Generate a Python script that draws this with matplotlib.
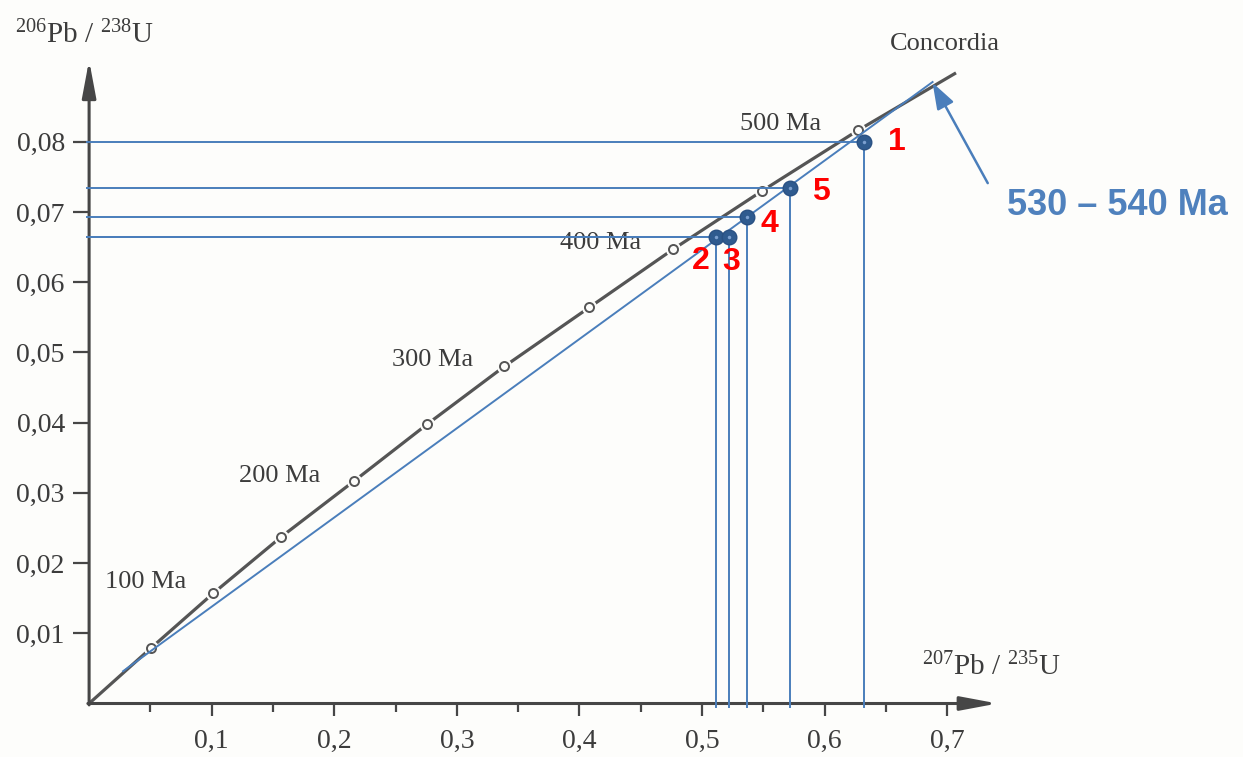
import numpy as np
import matplotlib.pyplot as plt
from matplotlib.ticker import FixedLocator

plt.rcParams['font.family'] = ['Liberation Serif', 'DejaVu Serif']
plt.rcParams['mathtext.fontset'] = 'custom'
plt.rcParams['mathtext.rm'] = 'Liberation Serif'
plt.rcParams['mathtext.it'] = 'Liberation Serif:italic'

# concordia curve (origin, 50 Ma steps, end of the curve)
conc_x = [0.0, 0.0505, 0.1013, 0.1565, 0.2163, 0.276, 0.3387, 0.408, 0.4765, 0.549, 0.627, 0.7071]
conc_y = [0.0, 0.0079, 0.0157, 0.0237, 0.0317, 0.0398, 0.0480, 0.0564, 0.0647, 0.0730, 0.0816, 0.0898]

age_labels = ['100 Ma', '200 Ma', '300 Ma', '400 Ma', '500 Ma']

# discordia (blue line)
disc_x = [0.0277, 0.688]
disc_y = [0.0046, 0.0885]

# samples
sample_ids = ['1', '2', '3', '4', '5']
sample_x = [0.632, 0.511, 0.522, 0.537, 0.572]
sample_y = [0.0800, 0.0664, 0.0664, 0.0693, 0.0734]

x_ticks = [0.1, 0.2, 0.3, 0.4, 0.5, 0.6, 0.7]
x_ticklabels = ['0,1', '0,2', '0,3', '0,4', '0,5', '0,6', '0,7']
x_minor = [0.05, 0.15, 0.25, 0.35, 0.45, 0.55, 0.65]
y_ticks = [0.01, 0.02, 0.03, 0.04, 0.05, 0.06, 0.07, 0.08]
y_ticklabels = ['0,01', '0,02', '0,03', '0,04', '0,05', '0,06', '0,07', '0,08']

grey = '#464646'
blue = '#4a7ebb'
dot_blue = '#2f5b8f'

fig = plt.figure(figsize=(12.43, 7.57), dpi=100, facecolor='#fdfdfb')
ax = fig.add_axes([0.07168, 0.07067, 0.7496, 0.8813])
ax.set_facecolor('none')
ax.set_xlim(0, 0.76)
ax.set_ylim(0, 0.095)
for s in ax.spines.values():
    s.set_visible(False)

# axes with slender arrows
arr = dict(arrowstyle='-|>,head_length=1.6,head_width=0.3', lw=2.2, color=grey,
           mutation_scale=14, shrinkA=0, shrinkB=0)
ax.annotate('', xy=(0.741, 0), xytext=(-0.001, 0), arrowprops=arr, annotation_clip=False)
ax.annotate('', xy=(0, 0.0916), xytext=(0, -0.0002), arrowprops=arr, annotation_clip=False)

ax.xaxis.set_major_locator(FixedLocator(x_ticks))
ax.xaxis.set_minor_locator(FixedLocator(x_minor))
ax.set_xticklabels(x_ticklabels)
ax.yaxis.set_major_locator(FixedLocator(y_ticks))
ax.set_yticklabels(y_ticklabels)
ax.tick_params(axis='x', which='major', direction='out', length=8.6, width=1.6,
               color=grey, labelsize=20, labelcolor='#3c3c3c', pad=10)
ax.tick_params(axis='x', which='minor', direction='out', length=5.5, width=1.6, color=grey)
ax.tick_params(axis='y', which='major', direction='out', length=11.5, width=1.6,
               color=grey, labelsize=20, labelcolor='#3c3c3c', pad=6)

# concordia with gaps around the age markers
ax.plot(conc_x, conc_y, color='#555555', lw=2.3, solid_capstyle='butt', zorder=2)
ax.plot(conc_x[1:-1], conc_y[1:-1], 'o', ms=11, color='#fdfdfb', mec='none', zorder=3)
ax.plot(conc_x[1:-1], conc_y[1:-1], 'o', ms=6.5, mfc='#fdfdfb', mec='#555555', mew=1.4, zorder=4)

label_pos = [(0.013, 0.0165), (0.1225, 0.0316), (0.2468, 0.0480), (0.3841, 0.0647), (0.5309, 0.0816)]
for txt, (lx, ly) in zip(age_labels, label_pos):
    ax.text(lx, ly, txt, fontsize=19, color='#3c3c3c', ha='left', va='baseline')
ax.text(0.653, 0.0930, 'Concordia', fontsize=19, color='#3c3c3c', ha='left', va='baseline')

# discordia and projections
ax.plot(disc_x, disc_y, color=blue, lw=1.4, zorder=5)
for sx, sy in zip(sample_x, sample_y):
    ax.plot([-0.002, sx], [sy, sy], color=blue, lw=1.4, zorder=5, clip_on=False)
    ax.plot([sx, sx], [-0.0005, sy], color=blue, lw=1.4, zorder=5, clip_on=False)
ax.plot(sample_x, sample_y, 'o', ms=10.5, color=dot_blue, mec='#2a5183', zorder=6)
ax.plot(sample_x, sample_y, 'o', ms=2.5, color='#7b9fcf', mec='none', zorder=7)

num_off = [(0.027, 0.0), (-0.012, -0.0034), (0.002, -0.0035), (0.018, -0.0010), (0.025, -0.0005)]
for sid, sx, sy, (dx, dy) in zip(sample_ids, sample_x, sample_y, num_off):
    ax.text(sx + dx, sy + dy, sid, fontsize=23, fontweight='bold', color='#ff0000',
            family='Liberation Sans', ha='center', va='center', zorder=8)

# arrow to the upper intercept
ax.annotate('', xy=(0.688, 0.0884), xytext=(0.733, 0.0741), annotation_clip=False,
            arrowprops=dict(arrowstyle='-|>,head_length=1.0,head_width=0.35', lw=1.8,
                            color=blue, mutation_scale=16, shrinkA=0, shrinkB=0))
ax.text(0.7484, 0.0696, '530 – 540 Ma', fontsize=26, fontweight='bold', color='#4f81bd',
        family='Liberation Sans', ha='left', va='baseline')

# axis titles
fig.text(0.0121, 0.9432, r'${}^{206}$Pb / ${}^{238}$U', fontsize=21, color='#3c3c3c', va='baseline')
fig.text(0.7415, 0.1083, r'${}^{207}$Pb / ${}^{235}$U', fontsize=21, color='#3c3c3c', va='baseline')

fig.savefig('out.png', dpi=100, facecolor=fig.get_facecolor())
